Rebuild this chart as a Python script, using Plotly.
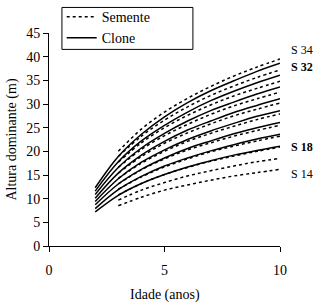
import plotly.graph_objects as go

ages_clone = [2, 3, 4, 5, 6, 7, 8, 9, 10]
clone = {
    "S18": [7.2, 10.7, 13.2, 15.1, 16.7, 18.0, 19.2, 20.2, 21.1],
    "S20": [7.9, 11.9, 14.7, 16.9, 18.6, 20.1, 21.4, 22.6, 23.6],
    "S22": [8.7, 13.1, 16.2, 18.6, 20.6, 22.2, 23.7, 25.0, 26.1],
    "S24": [9.4, 14.2, 17.7, 20.3, 22.5, 24.3, 25.9, 27.4, 28.6],
    "S26": [10.1, 15.4, 19.2, 22.1, 24.5, 26.4, 28.2, 29.7, 31.1],
    "S28": [10.9, 16.6, 20.7, 23.8, 26.4, 28.6, 30.4, 32.1, 33.6],
    "S30": [11.6, 17.8, 22.2, 25.5, 28.3, 30.7, 32.7, 34.5, 36.1],
    "S32": [12.3, 18.9, 23.6, 27.3, 30.3, 32.8, 34.9, 36.9, 38.6],
}

ages_seed = [3, 4, 5, 6, 7, 8, 9, 10]
seed = {
    "S14": [8.5, 10.3, 11.8, 12.9, 13.9, 14.8, 15.5, 16.2],
    "S16": [9.7, 11.8, 13.4, 14.8, 15.9, 16.9, 17.8, 18.5],
    "S18": [10.8, 13.2, 15.1, 16.6, 17.9, 19.0, 20.0, 20.9],
    "S20": [12.0, 14.6, 16.7, 18.4, 19.9, 21.1, 22.2, 23.2],
    "S22": [13.1, 16.1, 18.4, 20.3, 21.8, 23.2, 24.4, 25.5],
    "S24": [14.3, 17.5, 20.0, 22.1, 23.8, 25.3, 26.7, 27.9],
    "S26": [15.4, 18.9, 21.7, 23.9, 25.8, 27.5, 28.9, 30.2],
    "S28": [16.6, 20.4, 23.3, 25.7, 27.8, 29.6, 31.1, 32.5],
    "S30": [17.7, 21.8, 25.0, 27.6, 29.8, 31.7, 33.3, 34.8],
    "S32": [18.9, 23.2, 26.6, 29.4, 31.8, 33.8, 35.6, 37.2],
    "S34": [20.0, 24.7, 28.3, 31.2, 33.7, 35.9, 37.8, 39.5],
}

curve_labels = ["S 34", "S 32", "S 18", "S 14"]
label_heights = [41.4, 37.8, 20.9, 15.3]
label_bold = [False, True, True, False]

x_ticks = [0, 5, 10]
y_ticks = [0, 5, 10, 15, 20, 25, 30, 35, 40, 45]

FONT = "Liberation Serif"
fig = go.Figure()

for i, (k, v) in enumerate(seed.items()):
    fig.add_trace(go.Scatter(
        x=ages_seed, y=v, mode="lines", name="Semente",
        line=dict(color="black", width=1.5, dash="3px,3px", shape="spline"),
        showlegend=(i == 0), legendrank=1))

for i, (k, v) in enumerate(clone.items()):
    fig.add_trace(go.Scatter(
        x=ages_clone, y=v, mode="lines", name="Clone",
        line=dict(color="black", width=1.5, shape="spline"),
        showlegend=(i == 0), legendrank=2))

for t, h, b in zip(curve_labels, label_heights, label_bold):
    fig.add_annotation(x=1.04, y=h, xref="paper", yref="y",
                       text=("<b>%s</b>" % t) if b else t,
                       showarrow=False, xanchor="left", yanchor="middle",
                       font=dict(family=FONT, size=12, color="black"))

# x-axis title
fig.add_annotation(x=0.5, y=0, xref="paper", yref="paper", text="Idade (anos)",
                   showarrow=False, xanchor="center", yanchor="top", yshift=-39,
                   font=dict(family=FONT, size=14, color="black"))

# legend frame
fig.add_shape(type="rect", xref="paper", yref="paper",
              x0=0.056, x1=0.623, y0=0.923, y1=1.12,
              line=dict(color="black", width=1), fillcolor="rgba(0,0,0,0)")

fig.update_layout(
    width=319, height=302,
    margin=dict(l=49, r=39, t=33, b=56, autoexpand=False),
    paper_bgcolor="white", plot_bgcolor="white",
    font=dict(family=FONT, size=14, color="black"),
    showlegend=True,
    legend=dict(x=0.055, y=1.15, xanchor="left", yanchor="top",
                borderwidth=0, bgcolor="rgba(0,0,0,0)",
                font=dict(family=FONT, size=14), tracegroupgap=0,
                itemwidth=30),
    xaxis=dict(range=[0, 10], tickvals=x_ticks, showgrid=False, zeroline=False,
               showline=True, linecolor="black", linewidth=1,
               ticks="outside", ticklen=5, tickcolor="black",
               tickfont=dict(family=FONT, size=14), ticklabelstandoff=6),
    yaxis=dict(range=[0, 45], tickvals=y_ticks, showgrid=False, zeroline=False,
               showline=True, linecolor="black", linewidth=1,
               ticks="outside", ticklen=5, tickcolor="black",
               tickfont=dict(family=FONT, size=14),
               title=dict(text="Altura dominante (m)", font=dict(family=FONT, size=14), standoff=6)),
)

fig.write_html("out.html")
